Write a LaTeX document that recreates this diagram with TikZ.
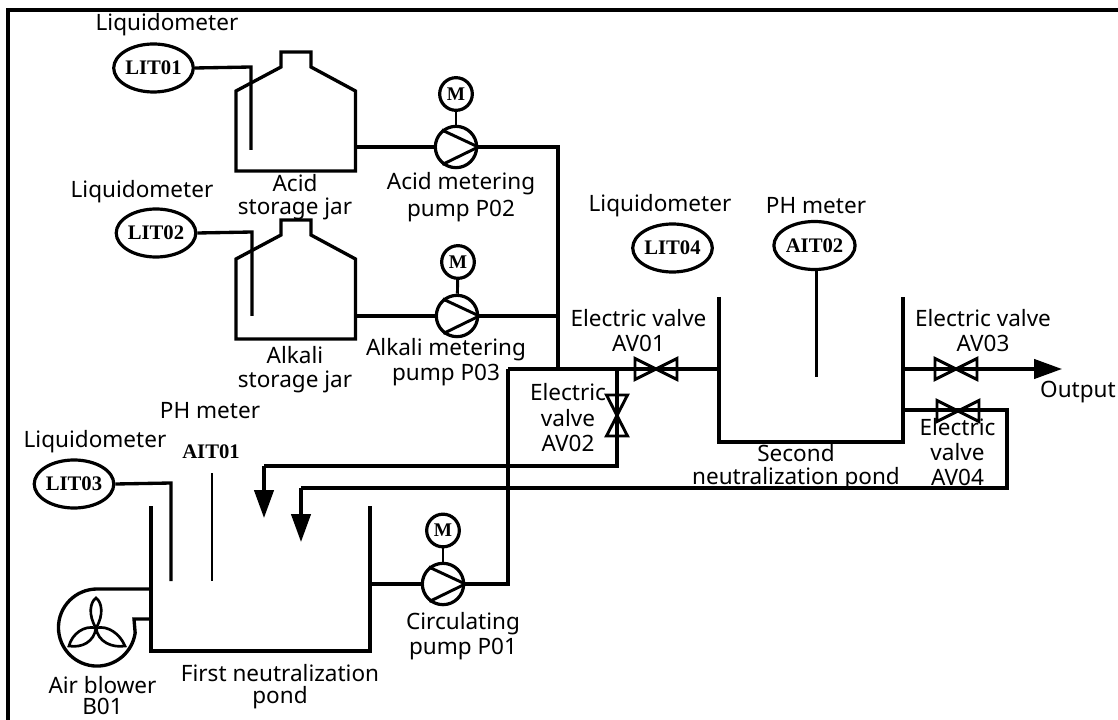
\documentclass[tikz,border=0pt]{standalone}
\usepackage{fontspec}
\setmainfont{Noto Sans}
\newfontfamily\tagfont{Liberation Serif}[Scale=1]
\usetikzlibrary{shapes.geometric,arrows.meta,calc}
\tikzset{
  pipe/.style={line width=2.5pt,line join=miter},
  thin pipe/.style={line width=2.2pt},
  lbl/.style={font=\fontsize{16.9}{18}\selectfont,inner sep=0pt,align=center},
  meter/.style={ellipse,draw,line width=2.4pt,minimum width=58pt,minimum height=36pt,inner sep=0pt,font=\tagfont\bfseries\fontsize{15.5}{16}\selectfont},
  tagtext/.style={inner sep=0pt,font=\tagfont\bfseries\fontsize{15.5}{16}\selectfont},
  motor/.style={circle,draw,line width=2.4pt,minimum size=24.5pt,inner sep=0pt,font=\tagfont\bfseries\fontsize{14.5}{15}\selectfont},
  pumpbody/.style={circle,draw,line width=2.4pt,minimum size=31pt,inner sep=0pt},
  valve/.style={line width=2.2pt,line join=miter},
  flow/.style={-{Triangle[length=21pt,width=14.5pt]},line width=2.5pt},
  fanblade/.style={line width=2pt},
}
\newcommand{\hvalve}[3]{\draw[valve] (#1,#2)++(-#3,-10.5)--++(0,21)--++(2*#3,-21)--++(0,21)--cycle;}
\newcommand{\vvalve}[3]{\draw[valve] (#1,#2)++(-10.5,-#3)--++(21,0)--++(-21,2*#3)--++(21,0)--cycle;}
\newcommand{\pumparrow}[1]{\draw[thin pipe] (#1.130)--(#1.east) (#1.232)--(#1.east);}
\begin{document}
\begin{tikzpicture}[x=0.75pt,y=-0.75pt]
\useasboundingbox (0,0) rectangle (1118,720);
\draw[pipe] (8,720)--(8,10)--(1118,10);

% first acid tank
\draw[pipe] (236,171)--(236,91)--(281,67)--(281,52)--(311,52)--(311,67)--(355.5,91)--(355.5,171)--cycle;
\node[meter] (lit1) at (153.5,68) {LIT01};
\coordinate (lit1e) at (251,150);
\draw[pipe] (lit1.east)--(251,67)--(lit1e);
\node[pumpbody] (p2) at (456,147) {};
\node[motor] (m2) at (456,94) {M};
\draw[thin pipe] (m2)--(p2);
\pumparrow{p2}
\coordinate (t1o) at (355.5,147);
\draw[pipe] (t1o)--(p2.west);
\coordinate (bus) at (558,369);
\draw[pipe] (p2.east)--(558,147)--(bus);

% alkali tank
\draw[pipe] (236,339)--(236,259)--(281,235)--(281,220)--(311,220)--(311,235)--(355.5,259)--(355.5,339)--cycle;
\node[meter] (lit2) at (156,233) {LIT02};
\coordinate (lit2e) at (252,316);
\draw[pipe] (lit2.east)--(252,232)--(lit2e);
\node[pumpbody] (p3) at (457,316) {};
\node[motor] (m3) at (458,262) {M};
\draw[thin pipe] (m3)--(p3);
\pumparrow{p3}
\coordinate (t2o) at (355.5,316);
\coordinate (bus2) at (558,316);
\draw[pipe] (t2o)--(p3.west);
\draw[pipe] (p3.east)--(bus2);

% second pond
\draw[pipe] (719,297)--(719,442)--(903,442)--(903,297);
\node[meter] (lit4) at (672.5,248) {LIT04};
\node[meter] (ait2) at (814.5,245.5) {AIT02};
\coordinate (ait2e) at (816.5,377);
\draw[thin pipe] (816.5,268)--(ait2e);

% main header and valves
\coordinate (hw) at (508,369);
\coordinate (hm) at (719,369);
\coordinate (j) at (617,369);
\draw[pipe] (hw)--(hm);
\hvalve{656}{369}{21}
\coordinate (a1) at (264,518);
\draw[pipe] (j)--(617,466)--(264,466);
\draw[flow] (264,466)--(a1);
\vvalve{617}{415.5}{20.5}

\coordinate (o1) at (903,369);
\coordinate (o2) at (1062,369);
\draw[flow] (o1)--(o2);
\hvalve{956}{369}{21}

\coordinate (r1) at (903,410);
\coordinate (a2) at (301,542);
\draw[pipe] (r1)--(1007,410)--(1007,488)--(301,488);
\draw[flow] (301,488)--(a2);
\hvalve{958}{411}{21}

% first pond
\draw[pipe] (151,506)--(151,651)--(370,651)--(370,506);
\node[meter] (lit3) at (74,484) {LIT03};
\coordinate (lit3e) at (171,581);
\draw[pipe] (lit3.east)--(171,483)--(lit3e);
\node[tagtext] (ait1) at (211,452) {AIT01};
\coordinate (s1) at (212,473);
\coordinate (s2) at (212,581);
\draw[thin pipe] (s1)--(s2);
\node[pumpbody] (p1) at (443,584) {};
\node[motor] (m1) at (443,530.5) {M};
\draw[thin pipe] (m1)--(p1);
\pumparrow{p1}
\coordinate (f1o) at (370,584);
\draw[pipe] (f1o)--(p1.west);
\draw[pipe] (p1.east)--(508,584)--(hw);

% air blower
\coordinate (fan) at (96,628);
\draw[pipe] (151,589)--(97,589) arc[start angle=90,end angle=352,radius=28.9pt] -- (134,619)--(151,619);
\draw[fanblade] (fan) .. controls (88,615) and (90,602) .. (96,598) .. controls (102,602) and (104,615) .. (fan);
\draw[fanblade] (fan) .. controls (84,625) and (72,634) .. (69,646) .. controls (82,648) and (94,642) .. (fan);
\draw[fanblade] (fan) .. controls (108,625) and (120,634) .. (125,646) .. controls (112,648) and (98,642) .. (fan);

% labels
\node[lbl] (l1) at (167,25) {Liquidometer};
\node[lbl] (l2) at (142,192) {Liquidometer};
\node[lbl] (l3) at (95,442) {Liquidometer};
\node[lbl] (l4) at (660,206) {Liquidometer};
\node[lbl] (ph1) at (210,411) {PH meter};
\node[lbl] (ph2) at (816,206) {PH meter};
\node[lbl] (tk1a) at (295,183) {Acid};
\node[lbl] (tk1b) at (295,209) {storage jar};
\node[lbl] (tk2a) at (295,355) {Alkali};
\node[lbl] (tk2b) at (295,382) {storage jar};
\node[lbl] (p2a) at (461,184) {Acid metering};
\node[lbl] (p2b) at (461,211) {pump P02};
\node[lbl] (p3a) at (446,350) {Alkali metering};
\node[lbl] (p3b) at (446,375) {pump P03};
\node[lbl] (v1a) at (638.5,318) {Electric valve};
\node[lbl] (v1b) at (638.5,343) {AV01};
\node[lbl] (v3a) at (983,318) {Electric valve};
\node[lbl] (v3b) at (983,343) {AV03};
\node[lbl] (out) at (1078,392) {Output};
\node[lbl] (v2a) at (568,392) {Electric};
\node[lbl] (v2b) at (568,418) {valve};
\node[lbl] (v2c) at (568,443) {AV02};
\node[lbl] (v4a) at (957.5,427) {Electric};
\node[lbl] (v4b) at (957.5,452) {valve};
\node[lbl] (v4c) at (957.5,477) {AV04};
\node[lbl] (sn1) at (796,453) {Second};
\node[lbl] (sn2) at (796,479) {neutralization pond};
\node[lbl] (fn1) at (280,673) {First neutralization};
\node[lbl] (fn2) at (280,698) {pond};
\node[lbl] (cp1) at (463,624) {Circulating};
\node[lbl] (cp2) at (463,649) {pump P01};
\node[lbl] (ab1) at (102.5,685) {Air blower};
\node[lbl] (ab2) at (102.5,706) {B01};
\end{tikzpicture}
\end{document}
